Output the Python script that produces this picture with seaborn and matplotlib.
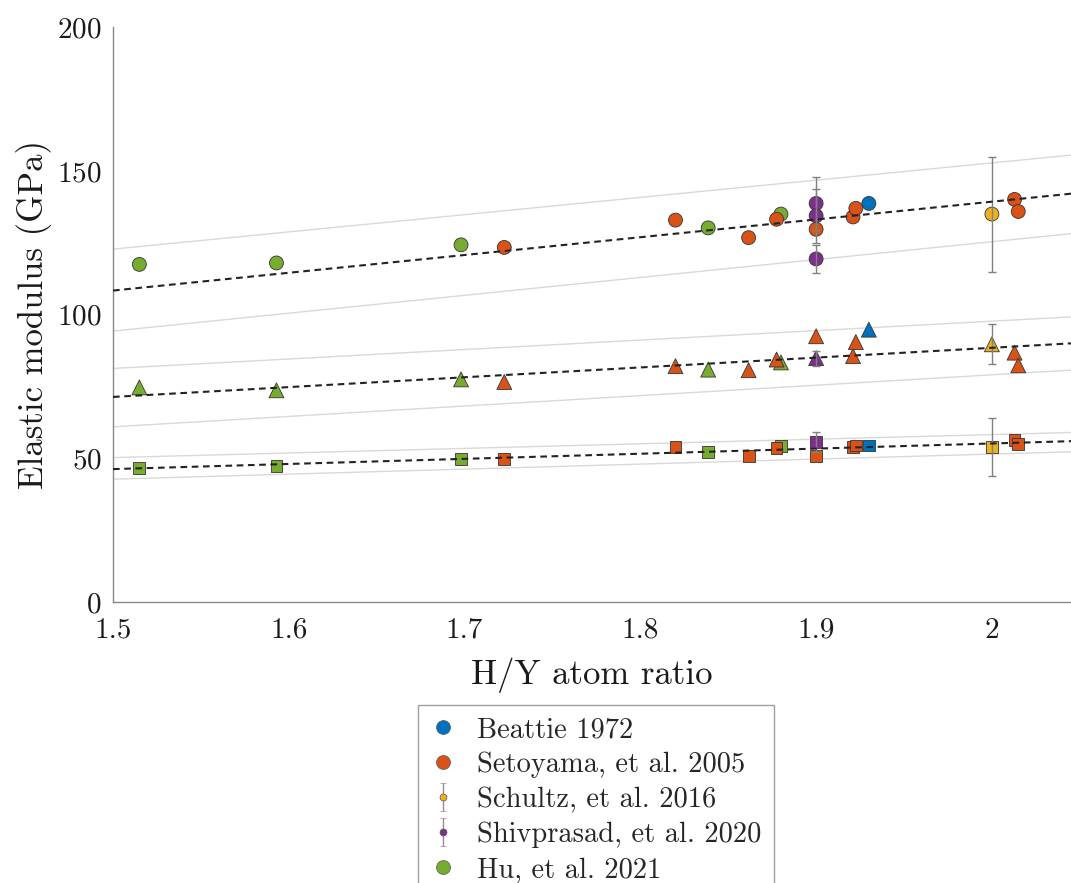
import numpy as np
import pandas as pd
import matplotlib
matplotlib.use("Agg")
import matplotlib.pyplot as plt
from matplotlib.lines import Line2D
import seaborn as sns

# ---------------- data ----------------
sources = ["Beattie 1972", "Setoyama, et al. 2005", "Schultz, et al. 2016",
           "Shivprasad, et al. 2020", "Hu, et al. 2021"]
colors = ["#0072BD", "#D95319", "#EDB120", "#7E2F8E", "#77AC30"]

# circles (upper group)
E_src = ["Hu, et al. 2021"] * 5 + ["Setoyama, et al. 2005"] * 9 + ["Shivprasad, et al. 2020"] * 3 + ["Beattie 1972", "Schultz, et al. 2016"]
E_x = [1.515, 1.593, 1.698, 1.8386, 1.880,
       1.7226, 1.820, 1.8616, 1.8775, 1.900, 1.921, 1.9226, 2.0129, 2.015,
       1.900, 1.900, 1.900,
       1.930, 2.000]
E_y = [117.5, 118.0, 124.3, 130.2, 135.0,
       123.4, 132.9, 126.8, 133.2, 129.7, 134.0, 137.0, 140.1, 135.9,
       138.7, 134.4, 119.4,
       138.7, 135.0]
E_err = [0] * 14 + [9.2, 9.3, 5.0] + [0, 20.0]

# triangles (middle group)
B_src = ["Hu, et al. 2021"] * 5 + ["Setoyama, et al. 2005"] * 9 + ["Shivprasad, et al. 2020", "Beattie 1972", "Schultz, et al. 2016"]
B_x = [1.515, 1.593, 1.698, 1.8386, 1.880,
       1.7226, 1.820, 1.8616, 1.8775, 1.900, 1.921, 1.9226, 2.0129, 2.015,
       1.900, 1.930, 2.000]
B_y = [74.7, 73.7, 77.5, 80.9, 83.4,
       76.6, 82.1, 80.7, 84.4, 92.5, 85.6, 90.5, 86.8, 82.4,
       84.9, 94.8, 89.7]
B_err = [0] * 14 + [2.6, 0, 7.0]

# squares (lower group)
G_src = B_src
G_x = B_x
G_y = [46.6, 47.3, 49.9, 52.2, 54.3,
       49.7, 54.0, 50.8, 53.5, 50.8, 54.0, 54.5, 56.3, 55.0,
       55.8, 54.5, 54.0]
G_err = [0] * 14 + [3.5, 0, 10.0]

# fit lines (dashed) and bounds (light gray), values at x = 1.5 and 2.05
fit_x = [1.5, 2.05]
E_fit = [108.4, 142.4]
E_up = [122.8, 155.8]
E_lo = [94.3, 128.5]
B_fit = [71.4, 90.2]
B_up = [81.3, 99.4]
B_lo = [61.0, 80.9]
G_fit = [46.3, 56.1]
G_up = [50.3, 59.1]
G_lo = [42.8, 52.4]

x_ticks = [1.5, 1.6, 1.7, 1.8, 1.9, 2.0]
x_ticklabels = ["1.5", "1.6", "1.7", "1.8", "1.9", "2"]
y_ticks = [0, 50, 100, 150, 200]

# ---------------- build table ----------------
df = pd.concat([
    pd.DataFrame({"x": E_x, "y": E_y, "err": E_err, "source": E_src, "kind": "E"}),
    pd.DataFrame({"x": B_x, "y": B_y, "err": B_err, "source": B_src, "kind": "B"}),
    pd.DataFrame({"x": G_x, "y": G_y, "err": G_err, "source": G_src, "kind": "G"}),
], ignore_index=True)

sns.set_style("white")
plt.rcParams["font.family"] = ["cmr10", "DejaVu Serif"]
plt.rcParams["axes.formatter.use_mathtext"] = True
plt.rcParams["mathtext.fontset"] = "cm"

fig = plt.figure(figsize=(10.71, 8.83), dpi=100)
ax = fig.add_axes([0.1055, 0.318, 0.8945, 0.6512])

palette = dict(zip(sources, colors))

# bounds
for lo, up in [(E_lo, E_up), (B_lo, B_up), (G_lo, G_up)]:
    ax.plot(fit_x, lo, color="#d9d9d9", lw=1.0, zorder=1)
    ax.plot(fit_x, up, color="#d9d9d9", lw=1.0, zorder=1)

size_map = {"E": 100, "B": 115, "G": 72}
for kind, mk in [("E", "o"), ("B", "^"), ("G", "s")]:
    sub = df[df["kind"] == kind]
    sns.scatterplot(data=sub, x="x", y="y", hue="source", palette=palette,
                    marker=mk, s=size_map[kind], edgecolor="#333333",
                    linewidth=0.6, legend=False, ax=ax, zorder=3)

# error bars
eb = df[df["err"] > 0]
ax.errorbar(eb["x"], eb["y"], yerr=eb["err"], fmt="none", ecolor="#808080",
            elinewidth=1.0, capsize=3, capthick=1.0, zorder=4)

# fits
for f in [E_fit, B_fit, G_fit]:
    ax.plot(fit_x, f, color="#222222", lw=1.5, ls=(0, (3.2, 2.2)), zorder=5)

ax.set_xlim(1.5, 2.045)
ax.set_ylim(0, 200)
ax.set_xticks(x_ticks)
ax.set_xticklabels(x_ticklabels)
ax.set_yticks(y_ticks)
ax.tick_params(direction="in", length=7, width=0.8, color="#777777",
               labelsize=21, labelcolor="#1a1a1a", pad=8)
ax.tick_params(axis="x", pad=11)
for s in ["top", "right"]:
    ax.spines[s].set_visible(False)
for s in ["left", "bottom"]:
    ax.spines[s].set_color("#888888")
    ax.spines[s].set_linewidth(1.0)
ax.set_xlabel("H/Y atom ratio", fontsize=25, labelpad=10, color="#1a1a1a")
ax.set_ylabel("Elastic modulus (GPa)", fontsize=25, labelpad=4, color="#1a1a1a")

# legend
handles = []
for src, col in zip(sources, colors):
    if src in ("Schultz, et al. 2016", "Shivprasad, et al. 2020"):
        h = ax.errorbar([np.nan], [np.nan], yerr=[1], fmt="o", ms=5, mfc=col,
                        mec="#555555", mew=0.5, ecolor="#998899", elinewidth=1,
                        capsize=2.5)
    else:
        h = Line2D([], [], marker="o", ls="none", ms=10, mfc=col,
                   mec="#555555", mew=0.5)
    handles.append(h)
leg = fig.legend(handles, sources, loc="upper center",
                 bbox_to_anchor=(0.5565, 0.2016), bbox_transform=fig.transFigure,
                 borderaxespad=0.0,
                 fontsize=20.5, frameon=True, fancybox=False, handlelength=0.9,
                 handletextpad=0.75, labelspacing=0.3, borderpad=0.42)
leg.get_frame().set_edgecolor("#888888")
leg.get_frame().set_linewidth(1.0)

fig.savefig("out.png", dpi=100)
